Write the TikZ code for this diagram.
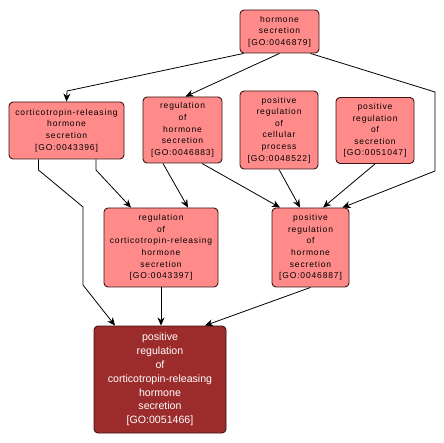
\documentclass[tikz,border=0pt]{standalone}
\usepackage{fontspec}
\newfontfamily\gofont[LetterSpace=10]{Liberation Sans}
\newfontfamily\gohitfont{Liberation Sans}
\usetikzlibrary{arrows.meta,calc}
\definecolor{gopink}{RGB}{255,138,138}
\definecolor{godark}{RGB}{156,44,44}
\definecolor{goline}{RGB}{60,20,20}
\tikzset{
  gobox/.style={draw=goline,line width=0.9pt,fill=gopink,rounded corners=4pt,
    align=center,inner sep=0pt,font=\gofont\fontsize{8.5}{11.6}\selectfont,text=black},
  gohit/.style={gobox,fill=godark,text=white,font=\gohitfont\fontsize{10.6}{13.8}\selectfont},
  goarrow/.style={draw=black,line width=0.8pt,-{Stealth[length=8pt,width=7pt,inset=2.5pt]}}
}
\begin{document}
\begin{tikzpicture}[x=1pt,y=-1pt]
\useasboundingbox (0,0) rectangle (444,443);
\node[gobox,minimum width=79pt,minimum height=43pt] (hs) at (279.5,31.5) {hormone\\secretion\\{[GO:0046879]}};
\node[gobox,minimum width=115pt,minimum height=57pt] (crh) at (66.5,130.5) {corticotropin-releasing\\hormone\\secretion\\{[GO:0043396]}};
\node[gobox,minimum width=79pt,minimum height=66pt] (rhs) at (182.5,130) {regulation\\of\\hormone\\secretion\\{[GO:0046883]}};
\node[gobox,minimum width=78pt,minimum height=78pt] (prcp) at (279,130) {positive\\regulation\\of\\cellular\\process\\{[GO:0048522]}};
\node[gobox,minimum width=78pt,minimum height=66pt] (prs) at (375,130.5) {positive\\regulation\\of\\secretion\\{[GO:0051047]}};
\node[gobox,minimum width=114pt,minimum height=79pt] (rcrh) at (161,247.5) {regulation\\of\\corticotropin-releasing\\hormone\\secretion\\{[GO:0043397]}};
\node[gobox,minimum width=77pt,minimum height=79pt] (prhs) at (310.5,247.5) {positive\\regulation\\of\\hormone\\secretion\\{[GO:0046887]}};
\node[gohit,minimum width=132pt,minimum height=107pt] (bot) at (160,379.5) {positive\\regulation\\of\\corticotropin-releasing\\hormone\\secretion\\{[GO:0051466]}};

\draw[goarrow] ([xshift=4pt]hs.south west) -- (67,91) -- (crh.north);
\draw[goarrow] (hs.south) -- ([xshift=3pt]rhs.north);
\draw[goarrow] ([xshift=-9pt]hs.south east) -- (435,92) -- (435,171) -- ([xshift=-7pt]prhs.north east);
\draw[goarrow] ([xshift=-28pt]crh.south) -- (38.5,170) -- (83,207) -- (83,285) -- ([xshift=-45pt]bot.north);
\draw[goarrow] ([xshift=29.5pt]crh.south) -- (96,170) -- ([xshift=-30pt]rcrh.north);
\draw[goarrow] ([xshift=-19.5pt]rhs.south) -- ([xshift=27pt]rcrh.north);
\draw[goarrow] ([xshift=19.5pt]rhs.south) -- ([xshift=-30.5pt]prhs.north);
\draw[goarrow] (prcp.south) -- ([xshift=-10.5pt]prhs.north);
\draw[goarrow] (prs.south) -- ([xshift=12.5pt]prhs.north);
\draw[goarrow] (rcrh.south) -- (rcrh.south |- bot.north);
\draw[goarrow] (prhs.south) -- ([xshift=45pt]bot.north);
\end{tikzpicture}
\end{document}
